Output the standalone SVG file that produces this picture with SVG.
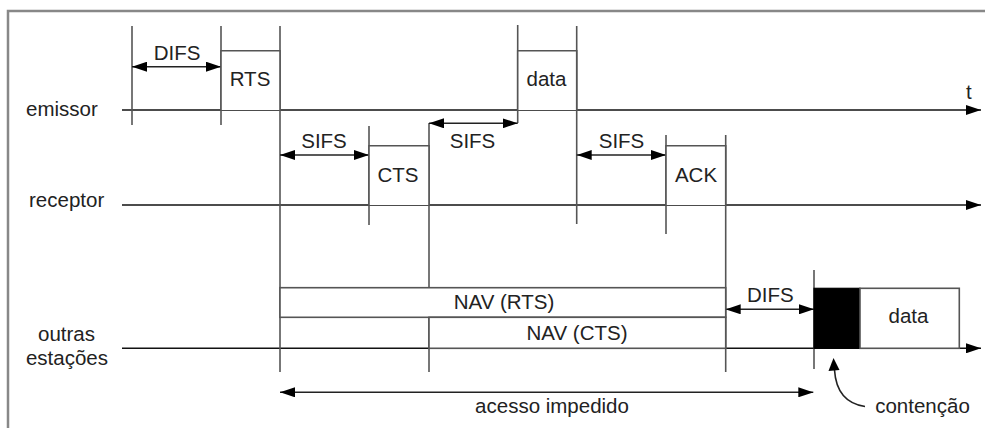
<svg xmlns="http://www.w3.org/2000/svg" width="985" height="428" viewBox="0 0 985 428">
<style>
text{font-family:"Liberation Sans",Arial,sans-serif;font-size:20.5px;fill:#222}
.c{text-anchor:middle}
.frame{stroke:#888;stroke-width:2.5;fill:none}
.tl{stroke:#111;stroke-width:1.6;fill:none}
.v{stroke:#555;stroke-width:1.6;fill:none}
.box{stroke:#555;stroke-width:1.6;fill:#fff}
.arr{stroke:#222;stroke-width:1.6;fill:none}
</style>
<defs>
<marker id="ah" viewBox="0 0 15 10" refX="15" refY="5" markerWidth="15" markerHeight="10" markerUnits="userSpaceOnUse" orient="auto-start-reverse">
<path d="M0,0 L15,5 L0,10 Z" fill="#000"/>
</marker>
</defs>
<g id="frame">
<path class="frame" d="M8,428 V11 H985"/>
</g>
<g id="connectors">
<line class="tl" x1="122" y1="110" x2="981" y2="110" marker-end="url(#ah)"/>
<line class="tl" x1="122" y1="205" x2="981" y2="205" marker-end="url(#ah)"/>
<line class="tl" x1="122" y1="348.3" x2="981" y2="348.3" marker-end="url(#ah)"/>
<line class="v" x1="132" y1="26" x2="132" y2="125"/>
<line class="v" x1="221" y1="26" x2="221" y2="125"/>
<line class="v" x1="280" y1="26" x2="280" y2="372"/>
<line class="v" x1="369" y1="126" x2="369" y2="225"/>
<line class="v" x1="429" y1="123" x2="429" y2="372"/>
<line class="v" x1="517.7" y1="25" x2="517.7" y2="123"/>
<line class="v" x1="576.7" y1="26" x2="576.7" y2="224"/>
<line class="v" x1="666" y1="135" x2="666" y2="234"/>
<line class="v" x1="725.7" y1="135" x2="725.7" y2="372"/>
<line class="v" x1="814" y1="270" x2="814" y2="369"/>
<line class="arr" x1="132" y1="66.7" x2="221" y2="66.7" marker-start="url(#ah)" marker-end="url(#ah)"/>
<line class="arr" x1="280" y1="155" x2="369" y2="155" marker-start="url(#ah)" marker-end="url(#ah)"/>
<line class="arr" x1="429" y1="123.3" x2="517.7" y2="123.3" marker-start="url(#ah)" marker-end="url(#ah)"/>
<line class="arr" x1="576.7" y1="155" x2="666" y2="155" marker-start="url(#ah)" marker-end="url(#ah)"/>
<line class="arr" x1="725.7" y1="309.3" x2="814" y2="309.3" marker-start="url(#ah)" marker-end="url(#ah)"/>
<line class="arr" x1="280" y1="392.3" x2="813.3" y2="392.3" marker-start="url(#ah)" marker-end="url(#ah)"/>
<path class="arr" d="M865,406.5 C848,404 836,393 834.5,370"/>
<path d="M833.5,358 L828.5,371 L839.5,370 Z" fill="#000"/>
</g>
<g id="rts">
<path class="box" d="M221,110 V50.7 H280 V110"/>
<text class="c" x="250" y="86">RTS</text>
</g>
<g id="cts">
<path class="box" d="M369,205 V145.7 H429 V205"/>
<text class="c" x="398" y="181.7">CTS</text>
</g>
<g id="data1">
<path class="box" d="M517.7,110 V50.7 H576.7 V110"/>
<text class="c" x="546.5" y="86">data</text>
</g>
<g id="ack">
<path class="box" d="M666,205 V145.7 H725.7 V205"/>
<text class="c" x="696" y="181.7">ACK</text>
</g>
<g id="nav-rts">
<rect class="box" x="280" y="287.7" width="445.7" height="29.6"/>
<text class="c" x="504" y="309">NAV (RTS)</text>
</g>
<g id="nav-cts">
<rect class="box" x="429" y="317.3" width="296.7" height="31"/>
<text class="c" x="577" y="340">NAV (CTS)</text>
</g>
<g id="contention">
<rect x="814" y="288.3" width="46" height="60" fill="#000" stroke="#000" stroke-width="1.2"/>
</g>
<g id="data2">
<rect class="box" x="860" y="288.3" width="99.3" height="60"/>
<text class="c" x="908.5" y="323">data</text>
</g>
<g id="labels">
<text x="26" y="116">emissor</text>
<text x="29" y="206.5">receptor</text>
<text class="c" x="66.5" y="340.5">outras</text>
<text class="c" x="67" y="365">estações</text>
<text x="966" y="99">t</text>
<text class="c" x="177" y="60">DIFS</text>
<text class="c" x="324" y="147.7">SIFS</text>
<text class="c" x="472.5" y="147.7">SIFS</text>
<text class="c" x="621.5" y="147.7">SIFS</text>
<text class="c" x="770.3" y="301.7">DIFS</text>
<text class="c" x="552" y="412.7">acesso impedido</text>
<text class="c" x="922.5" y="412.7">contenção</text>
</g>
</svg>
